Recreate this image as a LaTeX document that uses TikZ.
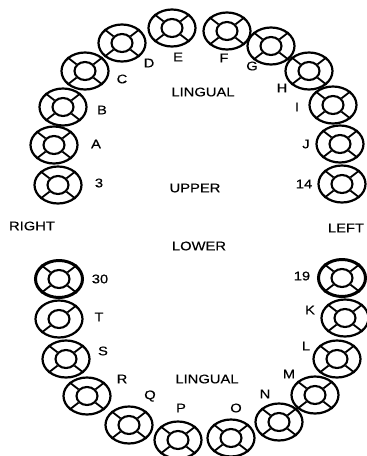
\documentclass[tikz,border=0pt]{standalone}
\usepackage{fontspec}
\setmainfont[FakeStretch=1.18,FakeBold=0.25]{Liberation Sans}
\usetikzlibrary{shapes.geometric}
\tikzset{
  toothouter/.style={ellipse,draw=black,line width=2.2pt,inner sep=0pt,minimum width=47pt,minimum height=37pt},
  toothinner/.style={ellipse,draw=black,line width=2.1pt,inner sep=0pt,minimum width=21pt,minimum height=18pt},
  heavy/.style={line width=3pt},
  spoke/.style={draw=black,line width=1.8pt},
  lbl/.style={inner sep=0pt,font=\fontsize{12.5}{14}\selectfont,text=black}
}
\newcommand{\toothbase}[4][]{%
  \node[toothouter,#1] (#2o) at (#3,#4) {};
  \node[toothinner] (#2i) at (#3,#4) {};}
\newcommand{\tooth}[4][]{%
  \toothbase[#1]{#2}{#3}{#4}
  \foreach \a in {38,142,218,322}{\draw[spoke] (#2i.\a) -- (#2o.\a);}}
\begin{document}
\begin{tikzpicture}[x=1pt,y=-1pt]
\useasboundingbox (0,0) rectangle (367,456);
\fill[white] (0,0) rectangle (367,456);
\tooth{c}{58}{185}
\tooth{ta}{54}{145}
\tooth{tb}{63}{107}
\tooth{tc}{85}{71}
\tooth{td}{122}{43}
\tooth{te}{172}{28}
\tooth{tf}{227}{31}
\tooth{tg}{271}{46}
\tooth{th}{309}{71}
\tooth{ti}{333}{105}
\tooth{tj}{340}{144}
\tooth{tn}{342}{184}
\tooth[heavy]{u}{59}{279}
\toothbase{tt}{59}{319}
\draw[spoke] (tti.38) -- (tto.38);
\draw[spoke] (tti.218) -- (tto.218);
\tooth{ts}{66}{359}
\tooth{tr}{87}{396}
\tooth{tq}{129}{425}
\tooth{tp}{178}{440}
\tooth{to}{231}{438}
\tooth{tnn}{279}{422}
\tooth{tm}{315}{395}
\tooth{tl}{337}{359}
\tooth{tk}{345}{318}
\tooth[heavy]{v}{342}{278}
\node[lbl] (l3) at (99,183) {3};
\node[lbl] (lA) at (96,144) {A};
\node[lbl] (lB) at (102,110) {B};
\node[lbl] (lC) at (122,79) {C};
\node[lbl] (lD) at (149,63) {D};
\node[lbl] (lE) at (178,57) {E};
\node[lbl] (lF) at (224,58) {F};
\node[lbl] (lG) at (252,66) {G};
\node[lbl] (lH) at (282,88) {H};
\node[lbl] (lI) at (297,107) {I};
\node[lbl] (lJ) at (306,144) {J};
\node[lbl] (l14) at (304,184) {14};
\node[lbl] (lingu) at (203,92) {LINGUAL};
\node[lbl] (upper) at (195,188) {UPPER};
\node[lbl] (right) at (32,226) {RIGHT};
\node[lbl] (left) at (346,228) {LEFT};
\node[lbl] (lower) at (199,246) {LOWER};
\node[lbl] (l30) at (100,279) {30};
\node[lbl] (lT) at (99,317) {T};
\node[lbl] (lS) at (103,351) {S};
\node[lbl] (lR) at (122,379) {R};
\node[lbl] (lQ) at (150,396) {Q};
\node[lbl] (lP) at (181,408) {P};
\node[lbl] (lingl) at (207,379) {LINGUAL};
\node[lbl] (lO) at (236,408) {O};
\node[lbl] (lN) at (265,394) {N};
\node[lbl] (lM) at (289,374) {M};
\node[lbl] (lL) at (306,346) {L};
\node[lbl] (lK) at (310,310) {K};
\node[lbl] (l19) at (302,276) {19};
\end{tikzpicture}
\end{document}
